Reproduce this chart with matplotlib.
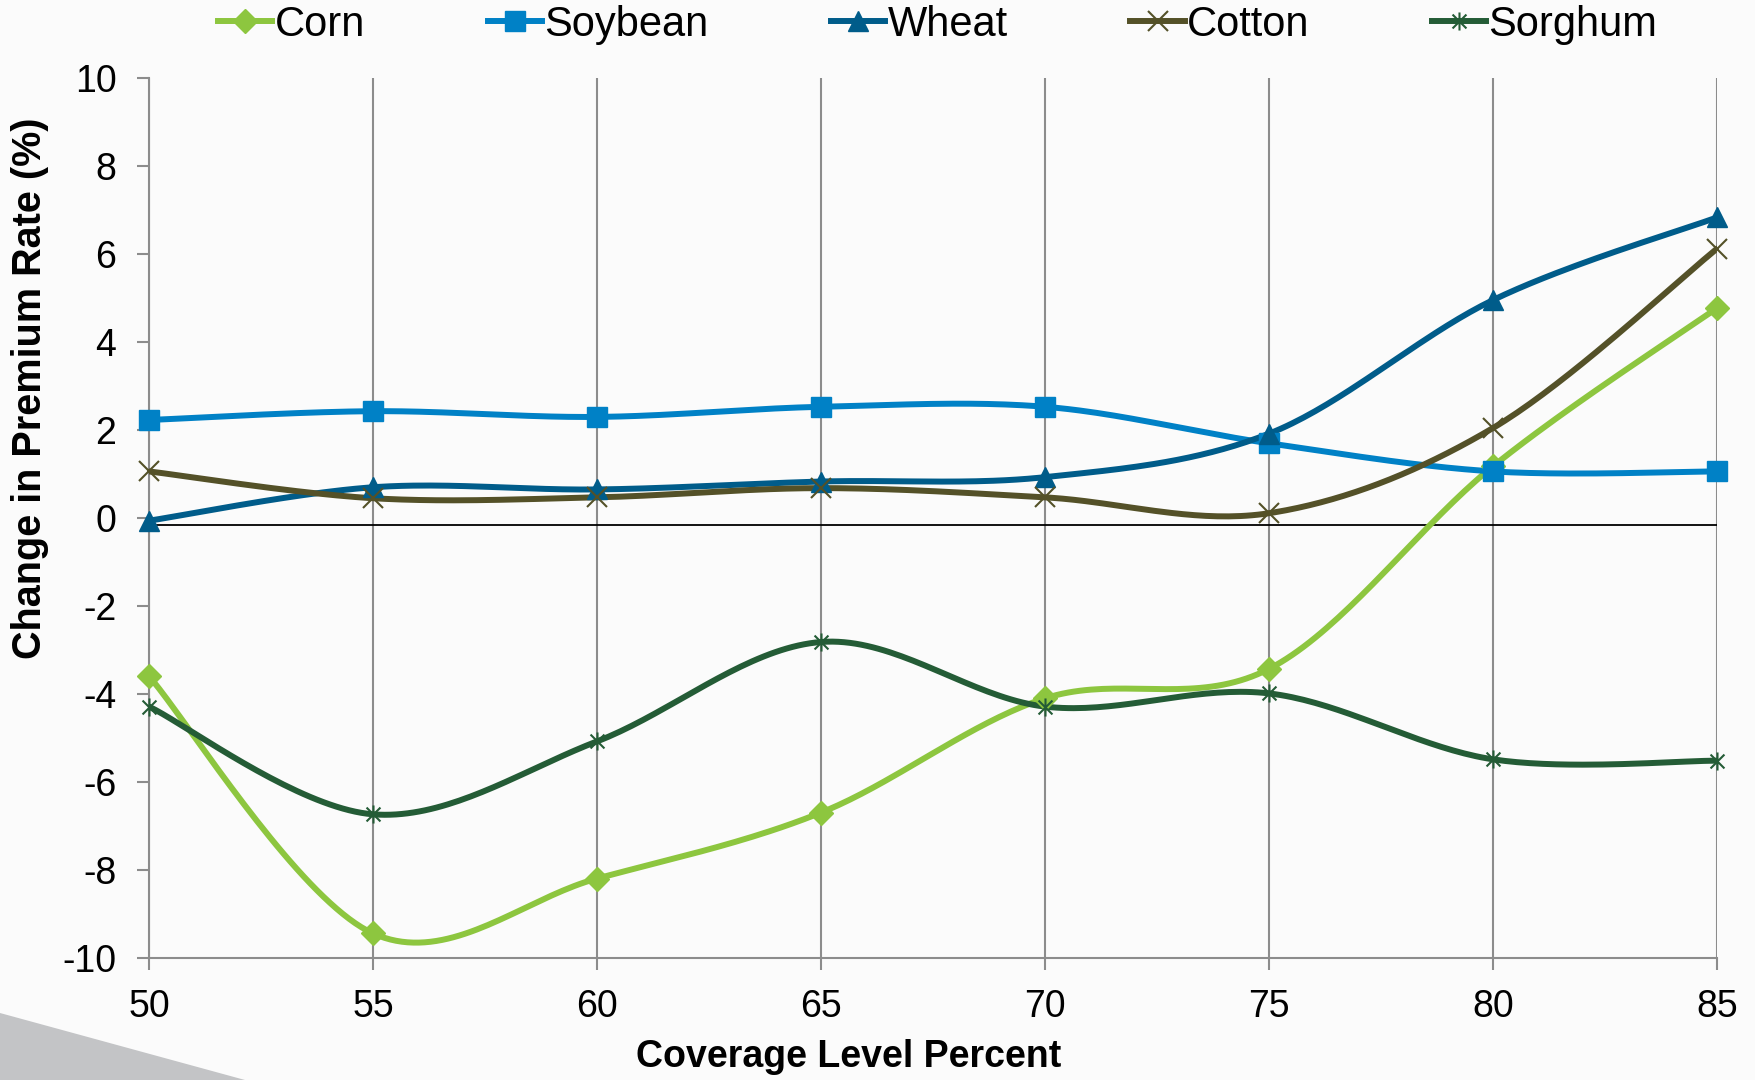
import numpy as np
import matplotlib
matplotlib.use("Agg")
import matplotlib.pyplot as plt
from matplotlib.path import Path
from matplotlib.patches import Polygon

plt.rcParams['font.family'] = ['Liberation Sans', 'DejaVu Sans']
plt.rcParams['axes.unicode_minus'] = False

# data
coverage = [50, 55, 60, 65, 70, 75, 80, 85]
corn = [-3.6, -9.45, -8.2, -6.7, -4.1, -3.43, 1.18, 4.78]
soybean = [2.23, 2.43, 2.3, 2.53, 2.53, 1.7, 1.06, 1.06]
wheat = [-0.06, 0.7, 0.65, 0.83, 0.93, 1.92, 4.96, 6.84]
cotton = [1.06, 0.45, 0.47, 0.68, 0.47, 0.11, 2.05, 6.13]
sorghum = [-4.29, -6.74, -5.08, -2.82, -4.29, -3.99, -5.49, -5.52]

names = ["Corn", "Soybean", "Wheat", "Cotton", "Sorghum"]
colors = ["#8DC63F", "#0081C6", "#005C8A", "#545128", "#245C36"]

# x-with-vertical-bar marker (excel "star")
star = Path([(-1, -1), (1, 1), (-1, 1), (1, -1), (0, -1.3), (0, 1.3)],
            [Path.MOVETO, Path.LINETO, Path.MOVETO, Path.LINETO, Path.MOVETO, Path.LINETO])


def excel_smooth(x, y, n=40):
    # catmull-rom style bezier, close to excel's smoothed lines
    x = np.asarray(x, float)
    y = np.asarray(y, float)
    px = np.concatenate([[x[0]], x, [x[-1]]])
    py = np.concatenate([[y[0]], y, [y[-1]]])
    xs, ys = [], []
    t = np.linspace(0, 1, n)
    for i in range(len(x) - 1):
        p0 = np.array([px[i + 1], py[i + 1]])
        p3 = np.array([px[i + 2], py[i + 2]])
        p1 = p0 + (p3 - np.array([px[i], py[i]])) / 6
        p2 = p3 - (np.array([px[i + 3], py[i + 3]]) - p0) / 6
        b = ((1 - t) ** 3)[:, None] * p0 + (3 * (1 - t) ** 2 * t)[:, None] * p1 \
            + (3 * (1 - t) * t ** 2)[:, None] * p2 + (t ** 3)[:, None] * p3
        xs.append(b[:, 0])
        ys.append(b[:, 1])
    return np.concatenate(xs), np.concatenate(ys)


fig = plt.figure(figsize=(17.56, 10.8), dpi=100)
fig.patch.set_facecolor("#FBFBFB")

# grey shape bottom-left
fig.patches.append(Polygon([(0, 0), (0, 1 - 1013 / 1080), (245 / 1756, 0)],
                           closed=True, transform=fig.transFigure,
                           facecolor="#C3C4C6", edgecolor="none", zorder=0))

ax = fig.add_axes([0.0849, 0.1133, 0.893, 0.8141])
ax.set_facecolor("none")

series = [corn, soybean, wheat, cotton, sorghum]
markers = ["D", "s", "^", "x", star]
msizes = [12, 14.5, 14.5, 14, 13]
handles = []
for vals, name, c, m, ms in zip(series, names, colors, markers, msizes):
    sx, sy = excel_smooth(coverage, vals)
    ax.plot(sx, sy, color=c, lw=4.3, zorder=3, solid_capstyle="round")
    thin = m == "x" or m is star
    ax.plot(coverage, vals, linestyle="none", marker=m, ms=ms, color=c,
            mec=c, mew=1.5 if thin else 1, zorder=4, clip_on=False)
    h, = ax.plot([], [], color=c, lw=4.3, marker=m, ms=ms, mec=c,
                 mew=1.5 if thin else 1)
    handles.append(h)

ax.axhline(-0.15, color="black", lw=1.3, zorder=2)

ax.set_xlim(50, 85)
ax.set_ylim(-10, 10)
ax.set_xticks(coverage)
ax.set_yticks(np.arange(-10, 11, 2))
ax.grid(axis="x", color="#8C8C8C", lw=1.5, zorder=1)
for s in ["top", "right"]:
    ax.spines[s].set_visible(False)
for s in ["left", "bottom"]:
    ax.spines[s].set_color("#8C8C8C")
    ax.spines[s].set_linewidth(1.5)
ax.tick_params(axis="both", labelsize=27, colors="#8C8C8C", labelcolor="black",
               length=8.5, width=1.5)
ax.tick_params(axis="x", pad=14)
ax.tick_params(axis="y", pad=15)

ax.set_xlabel("Coverage Level Percent", fontsize=27, fontweight="bold")
ax.xaxis.set_label_coords(0.446, -0.093)
ax.set_ylabel("Change in Premium Rate (%)", fontsize=28.5, fontweight="bold")
ax.yaxis.set_label_coords(-0.064, 0.648)

fig.legend(handles, names, loc="center", bbox_to_anchor=(0.534, 0.977), ncol=5,
           frameon=False, fontsize=30, handlelength=1.3, handletextpad=0.05,
           columnspacing=2.95)

fig.savefig("out.png", dpi=100, facecolor=fig.get_facecolor())
